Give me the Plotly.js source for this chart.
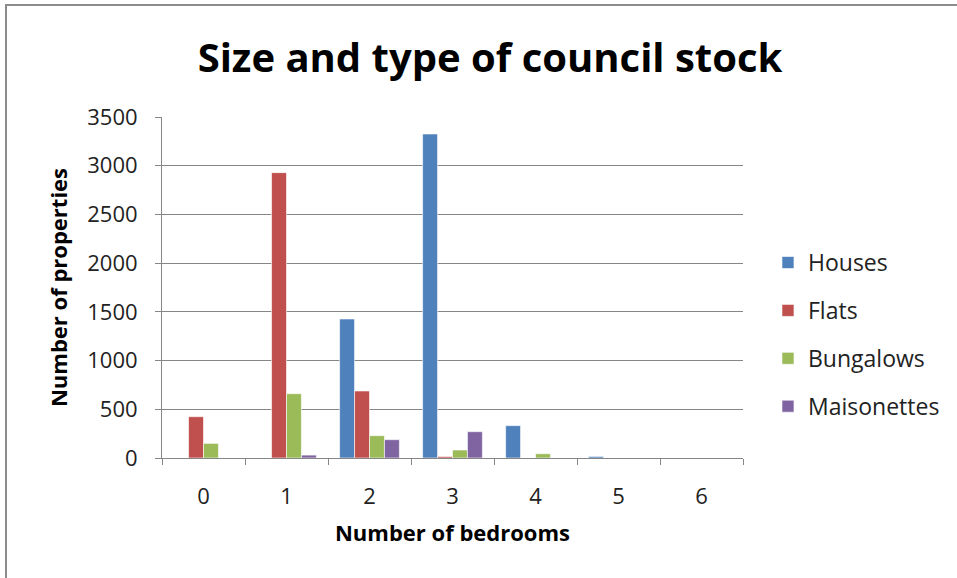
<!DOCTYPE html>
<html><head><meta charset="utf-8">
<script src="https://cdn.plot.ly/plotly-3.0.1.min.js"></script>
<style>
html,body{margin:0;padding:0;background:#fff;overflow:hidden}
#frame{position:absolute;left:5px;top:4px;width:1000px;height:700px;border-left:2px solid #8c8c8c;border-top:2px solid #8c8c8c;pointer-events:none;z-index:10}
#chart{position:absolute;left:0;top:0;width:957px;height:578px}
</style></head>
<body>
<div id="chart"></div>
<div id="frame"></div>
<script>
const categories = ['0','1','2','3','4','5','6'];
const houses = [0, 0, 1427, 3326, 332, 16, 0];
const flats = [424, 2929, 688, 15, 0, 0, 0];
const bungalows = [150, 660, 229, 82, 44, 0, 0];
const maisonettes = [0, 30, 188, 270, 0, 0, 0];
const seriesNames = ['Houses','Flats','Bungalows','Maisonettes'];
const colors = ['#4F81BD','#C0504D','#9BBB59','#8064A2'];
const vals = [houses, flats, bungalows, maisonettes];
const font = "'Open Sans', sans-serif";
const traces = vals.map((v,i)=>({
  type:'bar', x:categories, y:v, name:seriesNames[i],
  marker:{color:colors[i], line:{color:'rgba(255,255,255,0.6)', width:1}},
  legendgroup:'g'+i
}));
const layout = {
  width:957, height:578,
  margin:{l:162, r:214, t:117, b:120},
  paper_bgcolor:'#fff', plot_bgcolor:'#fff',
  title:{text:'<b>Size and type of council stock</b>', x:0.512, xanchor:'center', y:0.9, yanchor:'middle',
    font:{family:font, size:40, color:'#000'}},
  barmode:'group', bargap:0.28, bargroupgap:0,
  showlegend:true,
  legend:{x:1.043, xanchor:'left', y:0.362, yanchor:'middle', font:{family:font, size:23, color:'#222'},
    traceorder:'grouped', tracegroupgap:15, itemwidth:30},
  xaxis:{type:'category', showline:true, linecolor:'#868686', linewidth:1, ticks:'outside', tickson:'boundaries',
    ticklen:6, tickcolor:'#868686', tickfont:{family:font, size:22, color:'#222'}, ticklabelstandoff:19,
    title:{text:'<b>Number of bedrooms</b>', font:{family:font, size:22, color:'#000'}, standoff:16}},
  yaxis:{range:[0,3500], dtick:500, showline:true, linecolor:'#868686', linewidth:1, ticks:'outside', ticklen:6,
    tickcolor:'#868686', gridcolor:'#868686', gridwidth:1, zeroline:false, ticklabelstandoff:13,
    tickfont:{family:font, size:22, color:'#222'},
    title:{text:'<b>Number of properties</b>', font:{family:font, size:22, color:'#000'}, standoff:13}}
};
Plotly.newPlot('chart', traces, layout, {displayModeBar:false, staticPlot:true});
</script>
</body></html>
